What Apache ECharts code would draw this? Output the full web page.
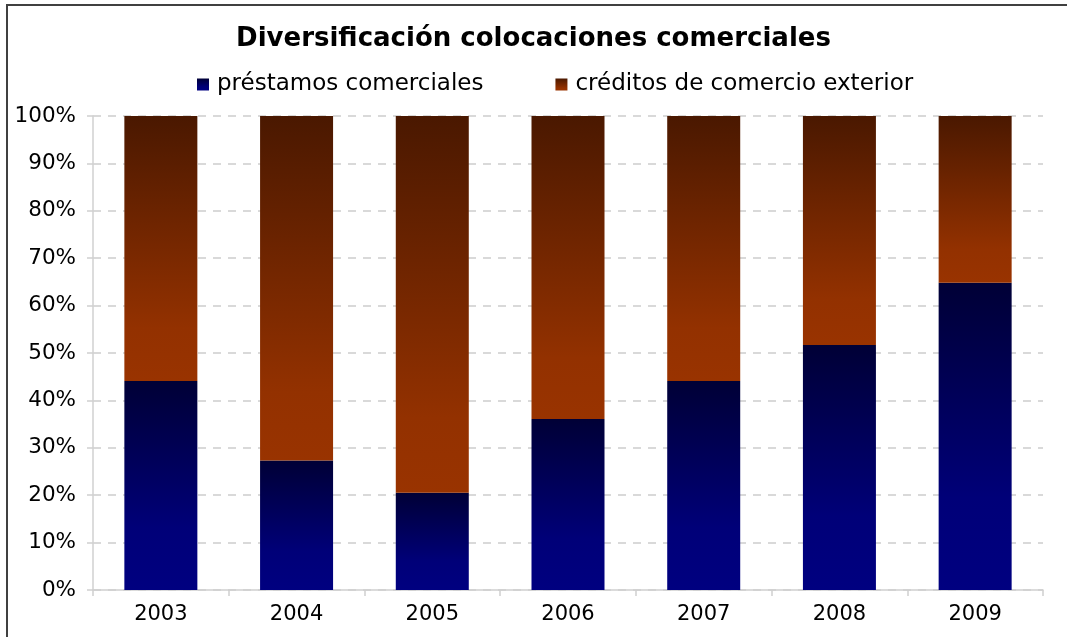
<!DOCTYPE html>
<html>
<head>
<meta charset="utf-8">
<script src="https://cdn.jsdelivr.net/npm/echarts@6/dist/echarts.min.js"></script>
<style>
html,body{margin:0;padding:0;background:#fff;overflow:hidden;}
#chart{width:1067px;height:637px;}
</style>
</head>
<body>
<div id="chart"></div>
<script>
const titleText = 'Diversificación colocaciones comerciales';
const categories = ['2003', '2004', '2005', '2006', '2007', '2008', '2009'];
const seriesNames = ['préstamos comerciales', 'créditos de comercio exterior'];
const prestamos = [44.1, 27.3, 20.5, 36.1, 44.1, 51.7, 64.8];
const creditos = [55.9, 72.7, 79.5, 63.9, 55.9, 48.3, 35.2];
const yTicks = { min: 0, max: 100, interval: 10 };

const FONT = '"DejaVu Sans", Verdana, sans-serif';
const blueGrad = new echarts.graphic.LinearGradient(0, 0, 0, 1, [
  { offset: 0, color: '#000036' },
  { offset: 0.7, color: '#000078' },
  { offset: 1, color: '#000080' }
]);
const brownGrad = new echarts.graphic.LinearGradient(0, 0, 0, 1, [
  { offset: 0, color: '#4a1800' },
  { offset: 0.8, color: '#933100' },
  { offset: 1, color: '#993300' }
]);

const chart = echarts.init(document.getElementById('chart'), null, { renderer: 'canvas' });
chart.setOption({
  backgroundColor: '#ffffff',
  animation: false,
  title: {
    text: titleText,
    left: 'center',
    top: 21,
    textStyle: { fontFamily: FONT, fontSize: 26, fontWeight: 'bold', color: '#000' }
  },
  legend: {
    data: seriesNames,
    top: 68,
    left: 192,
    icon: 'rect',
    itemWidth: 12,
    itemHeight: 12,
    itemGap: 72,
    textStyle: { fontFamily: FONT, fontSize: 23, color: '#000', padding: [0, 0, 0, 3] }
  },
  graphic: [{
    type: 'polyline',
    shape: { points: [[7, 700], [7, 5], [1100, 5]] },
    style: { fill: null, stroke: '#404040', lineWidth: 2 },
    silent: true,
    z: 100
  }],
  grid: { left: 93, right: 24, top: 116, bottom: 47, containLabel: false },
  xAxis: {
    type: 'category',
    data: categories,
    axisLine: { lineStyle: { color: '#d0d0d0', width: 1.5 } },
    axisTick: { show: true, length: 6, lineStyle: { color: '#d0d0d0', width: 1.5 } },
    axisLabel: { fontFamily: FONT, fontSize: 21, color: '#000', margin: 14 }
  },
  yAxis: {
    type: 'value',
    min: yTicks.min,
    max: yTicks.max,
    interval: yTicks.interval,
    axisLine: { show: true, lineStyle: { color: '#d0d0d0', width: 1.5 } },
    axisTick: { show: true, length: 6, lineStyle: { color: '#d0d0d0', width: 1.5 } },
    axisLabel: { fontFamily: FONT, fontSize: 21.5, color: '#000', margin: 17, formatter: '{value}%' },
    splitLine: { show: true, lineStyle: { color: '#d9d9d9', width: 2, type: [8, 7] } }
  },
  series: [
    {
      name: seriesNames[0],
      type: 'bar',
      stack: 'total',
      data: prestamos,
      barWidth: 73,
      itemStyle: { color: blueGrad }
    },
    {
      name: seriesNames[1],
      type: 'bar',
      stack: 'total',
      data: creditos,
      barWidth: 73,
      itemStyle: { color: brownGrad }
    }
  ]
});
</script>
</body>
</html>
